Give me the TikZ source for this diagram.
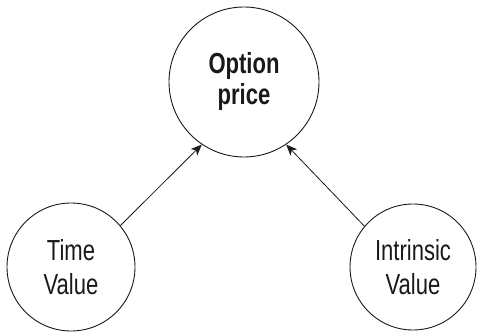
\documentclass[tikz,border=0pt]{standalone}
\usepackage{fontspec}
\setmainfont{Liberation Sans}[FakeStretch=0.76]
\usetikzlibrary{arrows.meta}
\begin{document}
\begin{tikzpicture}[x=1pt,y=1pt,
  bubble/.style={circle,draw=black!90,line width=0.9pt,inner sep=0pt,align=center,text=black!90},
  link/.style={draw=black!90,line width=0.8pt,-{Stealth[length=11pt,width=9pt,inset=3pt]}}]
\useasboundingbox (0,0) rectangle (478,334);
\node[bubble,minimum size=150pt,font=\fontsize{29}{31}\selectfont\bfseries] (op) at (244,252) {Option\\price};
\node[bubble,minimum size=128pt,font=\fontsize{29}{34}\selectfont] (tv) at (71,67) {Time\\Value};
\node[bubble,minimum size=126pt,font=\fontsize{29}{34}\selectfont] (iv) at (413,67) {Intrinsic\\Value};
\draw[link] (tv.40) -- (op.236);
\draw[link] (iv.140) -- (op.304);
\end{tikzpicture}
\end{document}
